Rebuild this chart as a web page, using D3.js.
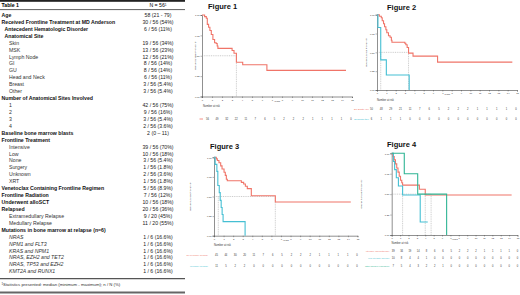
<!DOCTYPE html>
<html><head><meta charset="utf-8">
<script src="https://cdn.jsdelivr.net/npm/d3@7"></script>
<style>body{margin:0;background:#fff}svg{display:block}text{font-family:"Liberation Sans",Arial,Helvetica,sans-serif}</style>
</head><body><svg id="c" width="520" height="295"></svg>
<script>
// ---------- Table data ----------
const tableLabels = ["Age","Received Frontline Treatment at MD Anderson","Antecedent Hematologic Disorder","Anatomical Site",
 "Skin","MSK","Lymph Node","GI","GU","Head and Neck","Breast","Other",
 "Number of Anatomical Sites Involved","1","2","3","4",
 "Baseline bone marrow blasts","Frontline Treatment","Intensive","Low","None","Surgery","Unknown","XRT",
 "Venetoclax Containing Frontline Regimen","Frontline Radiation","Underwent alloSCT","Relapsed",
 "Extramedullary Relapse","Medullary Relapse","Mutations in bone marrow at relapse (n=6)",
 "NRAS","NPM1 and FLT3","KRAS and NPM1","NRAS, EZH2 and TET2","NRAS, TP53 and EZH2","KMT2A and RUNX1"];
const tableValues = ["58 (21 - 79)","30 / 56 (54%)","6 / 56 (11%)","",
 "19 / 56 (34%)","13 / 56 (23%)","12 / 56 (21%)","8 / 56 (14%)","8 / 56 (14%)","6 / 56 (11%)","3 / 56 (5.4%)","3 / 56 (5.4%)",
 "","42 / 56 (75%)","9 / 56 (16%)","3 / 56 (5.4%)","2 / 56 (3.6%)",
 "2 (0 – 11)","","39 / 56 (70%)","10 / 56 (18%)","3 / 56 (5.4%)","1 / 56 (1.8%)","2 / 56 (3.6%)","1 / 56 (1.8%)",
 "5 / 56 (8.9%)","7 / 56 (12%)","10 / 56 (18%)","20 / 56 (36%)",
 "9 / 20 (45%)","11 / 20 (55%)","",
 "1 / 6 (16.6%)","1 / 6 (16.6%)","1 / 6 (16.6%)","1 / 6 (16.6%)","1 / 6 (16.6%)","1 / 6 (16.6%)"];
// row kind: h = heading, hi = indented heading, s = sub-item, m = mutation sub-item
const tableKinds = ["h","h","hi","hi","s","s","s","s","s","s","s","s","h","s","s","s","s","h","h","s","s","s","s","s","s","h","h","h","h","s","s","h","m","m","m","m","m","m"];
const tableTitle = "Table 1";
const tableHeader = "N = 56";
const tableFootnote = "Statistics presented: median (minimum - maximum); n / N (%)";

// ---------- Figure data ----------
const yearTicks = d3.range(0, 16);
const survTicks = [0, 0.25, 0.5, 0.75, 1];

const fig1Curve = [[0,1],[0.26,0.98],[0.43,0.96],[0.53,0.885],[0.66,0.85],[0.79,0.81],[0.93,0.76],[1.09,0.70],[1.26,0.66],[1.42,0.65],[1.52,0.62],[1.59,0.59],[3.01,0.565],[3.2,0.53],[3.44,0.42],[4.07,0.39],[6.49,0.32],[14.4,0.32]];
const fig1Risk = [56,49,32,22,11,7,6,5,2,2,2,1,1,1,1,0];

const fig2Groups = ["BM Blasts <5%","BM Blasts \u22655%"];
const fig2Curves = [
 [[0,1],[0.25,0.98],[0.46,0.96],[0.56,0.92],[0.70,0.88],[0.81,0.84],[0.95,0.80],[1.05,0.76],[1.23,0.72],[1.40,0.70],[1.54,0.66],[1.6,0.635],[2.98,0.62],[3.09,0.60],[3.23,0.565],[3.38,0.49],[3.86,0.45],[6.49,0.37],[14.5,0.37]],
 [[0,1],[0.1,0.83],[0.4,0.40],[1.0,0.20],[3.45,0]]
];
const fig2Risk = [[50,48,29,21,11,7,6,5,2,2,2,1,1,1,1,0],[6,1,1,1,0,0,0,0,0,0,0,0,0,0,0,0]];

const fig3Groups = ["No Medullary Relapse","Medullary Relapse"];
const fig3Curves = [
 [[0,1],[0.24,0.98],[0.35,0.96],[0.52,0.93],[0.70,0.89],[0.84,0.85],[1.05,0.81],[1.18,0.77],[1.29,0.72],[1.39,0.70],[2.86,0.68],[3.10,0.66],[3.28,0.63],[3.48,0.60],[3.90,0.51],[6.41,0.43],[14.3,0.43]],
 [[0,1],[0.12,0.91],[0.3,0.82],[0.4,0.64],[0.55,0.55],[0.65,0.45],[0.75,0.36],[0.85,0.27],[0.95,0.18],[3.25,0]]
];
const fig3Risk = [[45,44,30,20,11,7,6,5,2,2,2,1,1,1,1,0],[11,5,2,2,0,0,0,0,0,0,0,0,0,0,0,0]];

const fig4Groups = ["Intensive Chemotherapy","Low Intensity Therapy","Other Surgery/XRT/None"];
const fig4Curves = [
 [[0,1],[0.15,0.96],[0.3,0.92],[0.45,0.87],[0.6,0.82],[0.75,0.77],[0.9,0.72],[1.05,0.67],[1.2,0.64],[1.3,0.61],[3.3,0.56],[4.0,0.49],[14.3,0.49]],
 [[0,1],[0.2,0.9],[0.35,0.8],[0.55,0.7],[0.8,0.6],[1.3,0.49],[3.4,0.16],[4.3,0.16]],
 [[0,1],[1.5,0.75],[3.1,0.5],[6.55,0]]
];
const fig4Risk = [[39,34,19,14,8,6,6,5,2,2,2,1,1,1,1,0],[10,8,4,4,1,0,0,0,0,0,0,0,0,0,0,0],[7,5,4,3,2,2,1,0,0,0,0,0,0,0,0,0]];

// medians (years) for dotted reference lines
const fig1Medians = [3.44];
const fig2Medians = [3.38, 0.4];
const fig3Medians = [6.41, 0.45];
const fig4Medians = [4.0, 1.3, 4.7];

// ---------- Drawing ----------
const svg = d3.select("#c");
const RED = "#f07468", CYAN = "#45bfd3", GREEN = "#2fb594";

// Table
const T = svg.append("g");
const tableW = 185, valX = 158;
const rowY = d3.scaleLinear().domain([0, tableLabels.length - 1]).range([15.2, 271.5]);
T.append("rect").attr("x",0).attr("y",0).attr("width",tableW).attr("height",1.8).attr("fill","#222");
T.append("line").attr("x1",0).attr("x2",tableW).attr("y1",9.6).attr("y2",9.6).attr("stroke","#333").attr("stroke-width",0.8);
T.append("text").attr("x",1.5).attr("y",7.3).attr("font-size",5.2).attr("font-weight","bold").text(tableTitle);
const hdr = T.append("text").attr("x",valX).attr("y",7.3).attr("font-size",5.2).attr("text-anchor","middle").text(tableHeader);
hdr.append("tspan").attr("font-size",3.2).attr("dy",-1.8).text("1");
const indent = {h:1.5, hi:4.5, s:9, m:9};
tableLabels.forEach((lab, i) => {
  const k = tableKinds[i];
  T.append("text").attr("x", indent[k]).attr("y", rowY(i) + 1.8)
    .attr("font-size", 5.2)
    .attr("font-weight", (k === "h" || k === "hi") ? "bold" : "normal")
    .attr("font-style", k === "m" ? "italic" : "normal")
    .attr("fill", (k === "h" || k === "hi") ? "#111" : "#333")
    .text(lab);
  if (tableValues[i]) T.append("text").attr("x", valX).attr("y", rowY(i) + 1.8)
    .attr("font-size", 5.2).attr("text-anchor","middle").attr("fill","#222").text(tableValues[i]);
});
T.append("line").attr("x1",0).attr("x2",tableW).attr("y1",278.7).attr("y2",278.7).attr("stroke","#555").attr("stroke-width",1.3);
const fn = T.append("text").attr("x",1.5).attr("y",286.3).attr("font-size",4.3).attr("fill","#333");
fn.append("tspan").attr("font-size",2.8).attr("dy",-1.5).text("1");
fn.append("tspan").attr("dy",1.5).text(tableFootnote);
T.append("rect").attr("x",0).attr("y",291.5).attr("width",tableW).attr("height",2).attr("fill","#666");

// KM figure
function drawKM(o) {
  const g = svg.append("g");
  const x = d3.scaleLinear().domain([0, 15]).range(o.xr);
  const y = d3.scaleLinear().domain([0, 1]).range(o.yr);
  g.append("text").attr("x", o.tx).attr("y", o.ty).attr("font-size", 7.5).attr("font-weight","bold").attr("fill","#111").text(o.name);
  // y title
  g.append("text").attr("transform", `translate(${o.yt},${(o.yr[0]+o.yr[1])/2}) rotate(-90)`)
    .attr("text-anchor","middle").attr("font-size",2.4).attr("fill","#333").text("Overall Survival Probability");
  const xa = g.append("g").attr("transform", `translate(0,${o.yr[0]})`)
    .call(d3.axisBottom(x).tickValues(yearTicks).tickSize(1.5).tickPadding(0.8));
  const ya = g.append("g").attr("transform", `translate(${o.xr[0]},0)`)
    .call(d3.axisLeft(y).tickValues(survTicks).tickFormat(d3.format(".2f")).tickSize(1.5).tickPadding(0.8));
  [xa, ya].forEach(a => {
    a.select(".domain").attr("stroke","#444").attr("stroke-width",0.6);
    a.selectAll(".tick line").attr("stroke","#444").attr("stroke-width",0.4);
    a.selectAll(".tick text").attr("font-size",2.4).attr("fill","#333").attr("font-family",'"Liberation Sans",Arial,sans-serif');
  });
  g.append("text").attr("x", x(7.5)).attr("y", o.yr[0] + 5.3).attr("text-anchor","middle").attr("font-size",2.4).attr("fill","#333").text("Years");
  // median reference lines
  const mmax = d3.max(o.medians);
  g.append("line").attr("x1", x(0)).attr("x2", x(mmax)).attr("y1", y(0.5)).attr("y2", y(0.5))
    .attr("stroke","#999").attr("stroke-width",0.5).attr("stroke-dasharray","1,0.8");
  o.medians.forEach(m => g.append("line").attr("x1", x(m)).attr("x2", x(m)).attr("y1", y(0.5)).attr("y2", y(0))
    .attr("stroke","#999").attr("stroke-width",0.5).attr("stroke-dasharray","1,0.8"));
  // curves
  const line = d3.line().x(d => x(d[0])).y(d => y(d[1])).curve(d3.curveStepAfter);
  o.curves.forEach((c, i) => g.append("path").attr("d", line(c)).attr("fill","none")
    .attr("stroke", o.colors[i]).attr("stroke-width", 1.1));
  // risk table
  g.append("text").attr("x", o.nx).attr("y", o.ny).attr("font-size",2.6).attr("fill","#333").text("Number at risk");
  const rx = d3.scaleLinear().domain([0, 15]).range(o.rr);
  o.risk.forEach((row, i) => {
    const ry = o.rowY[i];
    if (o.groups) g.append("text").attr("x", o.lx).attr("y", ry + 0.9).attr("text-anchor","end")
      .attr("font-size",2.2).attr("fill", o.colors[i]).text(o.groups[i]);
    else g.append("line").attr("x1", o.lx - 3.5).attr("x2", o.lx).attr("y1", ry).attr("y2", ry).attr("stroke", o.colors[i]).attr("stroke-width",0.8);
    row.forEach((v, j) => g.append("text").attr("x", rx(j)).attr("y", ry + 0.9).attr("text-anchor","middle")
      .attr("font-size",2.6).attr("fill","#333").text(v));
  });
}

drawKM({name:"Figure 1", tx:208, ty:9, xr:[202,352], yr:[96.5,15], yt:195.5,
  curves:[fig1Curve], colors:[RED], medians:fig1Medians, risk:[fig1Risk], groups:null,
  nx:203, ny:106.5, rr:[207.5,351], rowY:[119], lx:203});
drawKM({name:"Figure 2", tx:387, ty:9.5, xr:[377,517], yr:[90,14.7], yt:366.5,
  curves:fig2Curves, colors:[RED, CYAN], medians:fig2Medians, risk:fig2Risk, groups:fig2Groups,
  nx:377, ny:100.5, rr:[371.5,516], rowY:[109,119], lx:369});
drawKM({name:"Figure 3", tx:210, ty:148.5, xr:[214,357.5], yr:[235.7,157.3], yt:191,
  curves:fig3Curves, colors:[RED, CYAN], medians:fig3Medians, risk:fig3Risk, groups:fig3Groups,
  nx:214, ny:245.5, rr:[216.5,357], rowY:[255,266.5], lx:208});
drawKM({name:"Figure 4", tx:387, ty:147, xr:[391.7,517.5], yr:[235,153.3], yt:362,
  curves:fig4Curves, colors:[RED, CYAN, GREEN], medians:fig4Medians, risk:fig4Risk, groups:fig4Groups,
  nx:391.5, ny:243.5, rr:[393.3,517.5], rowY:[251,258.3,265.7], lx:389.5});
</script></body></html>
